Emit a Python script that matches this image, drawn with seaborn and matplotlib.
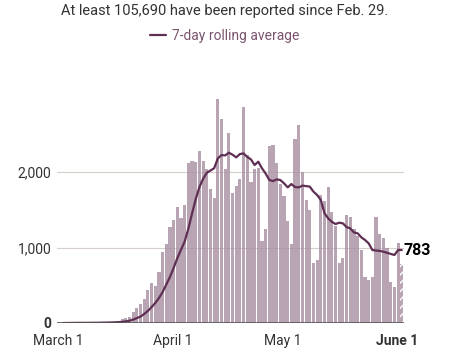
import seaborn as sns
import pandas as pd
import matplotlib.pyplot as plt
import numpy as np

# daily deaths, March 1 .. June 1 (day index 0..92)
deaths = [1, 1, 4, 2, 2, 3, 2, 3, 4, 5, 8, 7, 10, 12, 15, 30, 50,
          70, 85, 145, 200, 250, 320, 440, 530, 490, 680, 945, 1045, 1270, 1360,
          1540, 1390, 1560, 2120, 2150, 2130, 2280, 2150, 2035, 1770, 1650,
          2963, 2698, 2036, 2512, 1717, 1814, 1903, 2865,
          2230, 1872, 2035, 2050, 1090, 1250, 2344, 2360, 2125, 1840, 1680, 1350, 1040,
          2433, 2623, 2004, 1629, 1497, 790, 830, 1695, 1620, 1800, 1474, 1290,
          800, 857, 1430, 1408, 1250, 1150, 967, 614, 570, 614,
          1400, 1185, 1130, 1000, 540, 480, 1055, 783]

# 7-day rolling average line
rolling = [0, 0, 1, 1, 2, 2, 2, 2, 3, 3, 4, 5, 6, 7, 9, 11, 15,
           22, 30, 45, 65, 85, 120, 160, 210, 265, 330, 410, 510, 610, 730,
           860, 970, 1080, 1250, 1450, 1640, 1800, 1910, 1990, 2020, 2050,
           2180, 2225, 2220, 2256, 2230, 2194, 2238, 2247, 2200, 2168, 2093, 2137,
           2050, 1980, 1894, 1880, 1903, 1894, 1850, 1797, 1841, 1800,
           1797, 1820, 1814, 1806, 1740, 1695, 1629, 1453, 1386, 1340, 1311, 1329,
           1320, 1270, 1254, 1200, 1188, 1135, 1100, 1055, 967, 960, 955, 945, 930,
           915, 901, 967, 967]

tick_days = ['March 1', 'April 1', 'May 1', 'June 1']
tick_pos = [-1.3, 29.7, 59.7, 90.7]

df = pd.DataFrame({'day': np.arange(len(deaths)), 'deaths': deaths, 'avg': rolling})

bar_color = '#b9a4b3'
line_color = '#5e2f52'
text_color = '#333333'

sns.set_style('white')
plt.rcParams['font.family'] = ['Roboto', 'DejaVu Sans']

fig = plt.figure(figsize=(4.49, 3.58), dpi=100)
ax = fig.add_axes([57 / 449, 35 / 358, 347 / 449, 234 / 358])

sns.barplot(data=df, x='day', y='deaths', native_scale=True, color=bar_color,
            width=0.86, saturation=1, linewidth=0, ax=ax, zorder=2)
last = ax.patches[-1]
plt.rcParams['hatch.linewidth'] = 0.9
last.set_hatch('////')
last.set_edgecolor('white')

sns.lineplot(data=df, x='day', y='avg', color=line_color, linewidth=1.6,
             ax=ax, zorder=3, label='7-day rolling average')

ax.set_xlim(-1.7, 92.6)
ax.set_ylim(0, 3100)
ax.set_yticks([0, 1000, 2000])
ax.set_yticklabels(['0', '1,000', '2,000'])
ax.get_yticklabels()[0].set_fontweight('bold')
for y in [1000, 2000]:
    ax.axhline(y, color='#e6e2da', linewidth=0.9, zorder=1)
    ax.axhline(y, color='#8c7a86', linewidth=0.5, alpha=0.25, zorder=2.5)
ax.axhline(0, color='#555555', linewidth=1.2, zorder=4)

ax.set_xticks(tick_pos)
ax.set_xticklabels(tick_days)
ax.get_xticklabels()[-1].set_fontweight('bold')
ax.tick_params(axis='both', length=0, labelsize=10, colors=text_color)
ax.tick_params(axis='x', pad=8)
ax.tick_params(axis='y', pad=4)
ax.set_xlabel('')
ax.set_ylabel('')
sns.despine(ax=ax, left=True, bottom=True)

ax.text(92.6, 967, '783', fontsize=11.5, fontweight='bold', color='black',
        va='center', ha='left', clip_on=False)

fig.text(0.5, 1 - 11 / 358, 'At least 105,690 have been reported since Feb. 29.',
         ha='center', va='center', fontsize=10.5, color=text_color)

leg = ax.legend(loc='center', bbox_to_anchor=(0.5, 1 - 36 / 358),
                bbox_transform=fig.transFigure, frameon=False, fontsize=10,
                handlelength=1.2, handletextpad=0.4)
for t in leg.get_texts():
    t.set_color('#7a5570')

fig.savefig('out.png', dpi=100)
